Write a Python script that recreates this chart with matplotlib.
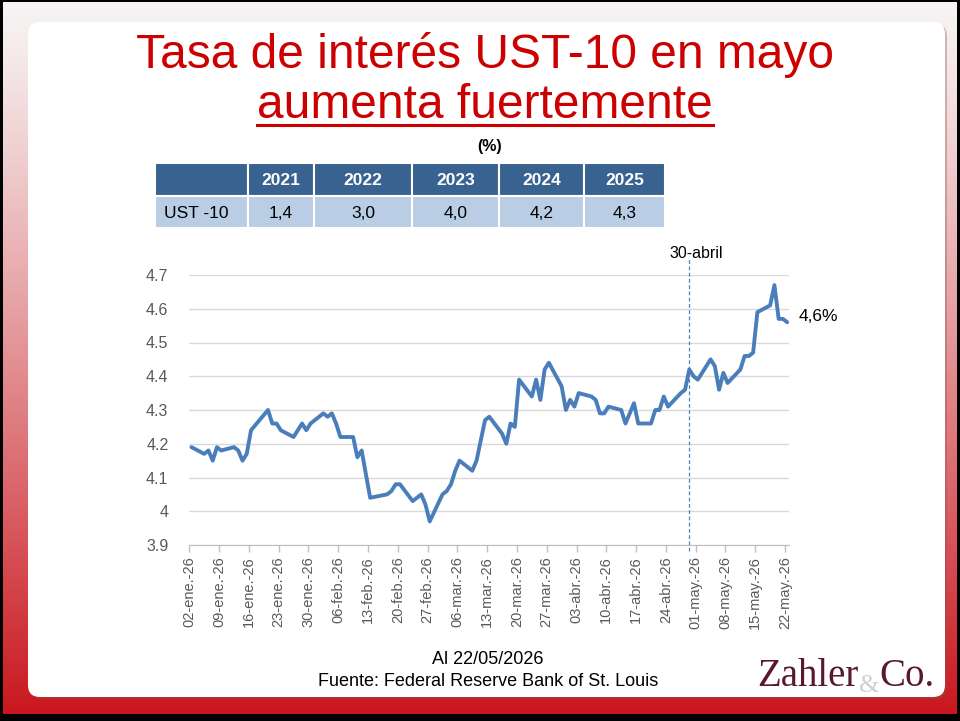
import numpy as np
import pandas as pd
import matplotlib
matplotlib.use("Agg")
import matplotlib.pyplot as plt
from matplotlib.patches import FancyBboxPatch, Rectangle
from matplotlib.lines import Line2D

plt.rcParams["font.family"] = ["Liberation Sans", "DejaVu Sans"]

# ---- 10-year Treasury yield, daily (%), 2026 ----
dates = [
    "2026-01-02", "2026-01-05", "2026-01-06", "2026-01-07", "2026-01-08", "2026-01-09",
    "2026-01-12", "2026-01-13", "2026-01-14", "2026-01-15", "2026-01-16",
    "2026-01-20", "2026-01-21", "2026-01-22", "2026-01-23",
    "2026-01-26", "2026-01-27", "2026-01-28", "2026-01-29", "2026-01-30",
    "2026-02-02", "2026-02-03", "2026-02-04", "2026-02-05", "2026-02-06",
    "2026-02-09", "2026-02-10", "2026-02-11", "2026-02-12", "2026-02-13",
    "2026-02-17", "2026-02-18", "2026-02-19", "2026-02-20",
    "2026-02-23", "2026-02-24", "2026-02-25", "2026-02-26", "2026-02-27",
    "2026-03-02", "2026-03-03", "2026-03-04", "2026-03-05", "2026-03-06",
    "2026-03-09", "2026-03-10", "2026-03-11", "2026-03-12", "2026-03-13",
    "2026-03-16", "2026-03-17", "2026-03-18", "2026-03-19", "2026-03-20",
    "2026-03-23", "2026-03-24", "2026-03-25", "2026-03-26", "2026-03-27",
    "2026-03-30", "2026-03-31", "2026-04-01", "2026-04-02", "2026-04-03",
    "2026-04-06", "2026-04-07", "2026-04-08", "2026-04-09", "2026-04-10",
    "2026-04-13", "2026-04-14", "2026-04-15", "2026-04-16", "2026-04-17",
    "2026-04-20", "2026-04-21", "2026-04-22", "2026-04-23", "2026-04-24",
    "2026-04-27", "2026-04-28", "2026-04-29", "2026-04-30", "2026-05-01",
    "2026-05-04", "2026-05-05", "2026-05-06", "2026-05-07", "2026-05-08",
    "2026-05-11", "2026-05-12", "2026-05-13", "2026-05-14", "2026-05-15",
    "2026-05-18", "2026-05-19", "2026-05-20", "2026-05-21", "2026-05-22",
]
ust10 = [
    4.19, 4.17, 4.18, 4.15, 4.19, 4.18,
    4.19, 4.18, 4.15, 4.17, 4.24,
    4.30, 4.26, 4.26, 4.24,
    4.22, 4.24, 4.26, 4.24, 4.26,
    4.29, 4.28, 4.29, 4.26, 4.22,
    4.22, 4.16, 4.18, 4.11, 4.04,
    4.05, 4.06, 4.08, 4.08,
    4.03, 4.04, 4.05, 4.02, 3.97,
    4.05, 4.06, 4.08, 4.12, 4.15,
    4.12, 4.15, 4.21, 4.27, 4.28,
    4.23, 4.20, 4.26, 4.25, 4.39,
    4.34, 4.39, 4.33, 4.42, 4.44,
    4.37, 4.30, 4.33, 4.31, 4.35,
    4.34, 4.33, 4.29, 4.29, 4.31,
    4.30, 4.26, 4.29, 4.32, 4.26,
    4.26, 4.30, 4.30, 4.34, 4.31,
    4.35, 4.36, 4.42, 4.40, 4.39,
    4.45, 4.43, 4.36, 4.41, 4.38,
    4.42, 4.46, 4.46, 4.47, 4.59,
    4.61, 4.67, 4.57, 4.57, 4.56,
]

# annual reference table
table_years = ["2021", "2022", "2023", "2024", "2025"]
table_values = ["1,4", "3,0", "4,0", "4,2", "4,3"]
table_row_label = "UST -10"

# axis ticks
tick_dates = pd.date_range("2026-01-02", "2026-05-22", freq="7D")
tick_labels = [
    "02-ene.-26", "09-ene.-26", "16-ene.-26", "23-ene.-26", "30-ene.-26",
    "06-feb.-26", "13-feb.-26", "20-feb.-26", "27-feb.-26", "06-mar.-26",
    "13-mar.-26", "20-mar.-26", "27-mar.-26", "03-abr.-26", "10-abr.-26",
    "17-abr.-26", "24-abr.-26", "01-may.-26", "08-may.-26", "15-may.-26",
    "22-may.-26",
]
y_ticks = [3.9, 4.0, 4.1, 4.2, 4.3, 4.4, 4.5, 4.6, 4.7]
y_tick_labels = ["3.9", "4", "4.1", "4.2", "4.3", "4.4", "4.5", "4.6", "4.7"]

marker_date = "2026-04-29"
marker_label = "30-abril"
last_label = "4,6%"

title_line1 = "Tasa de interés UST-10 en mayo"
title_line2 = "aumenta fuertemente"
unit_label = "(%)"
footer_date = "Al 22/05/2026"
footer_source = "Fuente: Federal Reserve Bank of St. Louis"

# ---- canvas ----
W, H = 960, 721
fig = plt.figure(figsize=(W / 100, H / 100), dpi=100)
bg = fig.add_axes([0, 0, 1, 1])
bg.set_xlim(0, W)
bg.set_ylim(H, 0)
bg.axis("off")

# slide background: light at the top fading into red
t = np.linspace(0, 1, H)[:, None]
top = np.array([0.97, 0.96, 0.96])
bot = np.array([0.79, 0.08, 0.11])
grad = top + (bot - top) * (t ** 1.15)[..., None]
grad = np.repeat(grad, 2, axis=1)
bg.imshow(grad, extent=(0, W, H, 0), aspect="auto", zorder=0)

# frame
bg.add_patch(Rectangle((0, 0), W, 2, fc="black", ec="none", zorder=1))
bg.add_patch(Rectangle((0, 0), 3, H, fc="black", ec="none", zorder=1))
bg.add_patch(Rectangle((W - 3, 0), 3, H, fc="black", ec="none", zorder=1))
bg.add_patch(Rectangle((0, 714), W, 7, fc="black", ec="none", zorder=1))

# white content panel with a soft shadow
bg.add_patch(FancyBboxPatch((30, 24), 917, 675,
                            boxstyle="round,pad=0,rounding_size=12",
                            fc="#8a5050", ec="none", alpha=0.35, zorder=2))
bg.add_patch(FancyBboxPatch((28, 22), 917, 675,
                            boxstyle="round,pad=0,rounding_size=12",
                            fc="white", ec="none", zorder=3))

# titles
red = "#cc0000"
bg.text(485, 68, title_line1, ha="center", va="baseline",
        fontsize=34.5, color=red, zorder=5)
t2 = bg.text(485, 118, title_line2, ha="center", va="baseline",
             fontsize=34.5, color=red, zorder=5)
fig.canvas.draw()
bb = t2.get_window_extent().transformed(bg.transData.inverted())
bg.add_line(Line2D([bb.x0, bb.x1], [125, 125], color=red, lw=2.2, zorder=5))

bg.text(490, 147, unit_label, ha="center", va="center",
        fontsize=11.5, fontweight="bold", color="black", zorder=5)

# table
col_edges = [155, 248, 314, 412, 499, 584, 665]
head_y0, head_y1 = 163, 196
row_y0, row_y1 = 196, 228
head_c = "#386290"
row_c = "#b9cde5"
for i in range(len(col_edges) - 1):
    x0, x1 = col_edges[i], col_edges[i + 1]
    bg.add_patch(Rectangle((x0, head_y0), x1 - x0, head_y1 - head_y0,
                           fc=head_c, ec="white", lw=1.5, zorder=4))
    bg.add_patch(Rectangle((x0, row_y0), x1 - x0, row_y1 - row_y0,
                           fc=row_c, ec="white", lw=1.5, zorder=4))
for i, (yr, val) in enumerate(zip(table_years, table_values)):
    xc = (col_edges[i + 1] + col_edges[i + 2]) / 2
    bg.text(xc, (head_y0 + head_y1) / 2 + 1, yr, ha="center", va="center",
            fontsize=12.5, fontweight="bold", color="white", zorder=5)
    bg.text(xc, (row_y0 + row_y1) / 2 + 1, val, ha="center", va="center",
            fontsize=12.5, color="black", zorder=5)
bg.text(164, (row_y0 + row_y1) / 2 + 1, table_row_label, ha="left",
        va="center", fontsize=12.5, color="black", zorder=5)

# footer
narrow = ["Liberation Sans Narrow", "Liberation Sans", "DejaVu Sans"]
bg.text(488, 660, footer_date, ha="center", va="center", fontsize=13,
        family=narrow, zorder=5)
bg.text(488, 681, footer_source, ha="center", va="center", fontsize=13,
        family=narrow, zorder=5)

# logo
serif = ["Liberation Serif", "DejaVu Serif"]
bg.text(869, 692, "&", ha="center", va="baseline", fontsize=19,
        color="#cfcfcf", family=serif, zorder=5)
bg.text(757, 686, "Zahler", ha="left", va="baseline", fontsize=28,
        color="#5a1830", family=serif, zorder=6)
bg.text(935, 686, "Co.", ha="right", va="baseline", fontsize=28,
        color="#5a1830", family=serif, zorder=6)

# ---- line chart ----
ax = fig.add_axes([189.3 / W, (H - 545) / H, 600 / W, 270 / H])
ax.patch.set_alpha(0)
ax.set_zorder(10)

half_day = pd.Timedelta(hours=12)
x = pd.to_datetime(dates) + half_day
ax.plot(x, ust10, color="#4a7ebb", lw=2.8, solid_joinstyle="round",
        solid_capstyle="round", zorder=3)

ax.set_xlim(pd.Timestamp("2026-01-02"), pd.Timestamp("2026-05-23"))
ax.set_ylim(3.9, 4.7)
ax.set_yticks(y_ticks)
ax.set_yticklabels(y_tick_labels)
ax.set_xticks(tick_dates)
ax.set_xticklabels(tick_labels, rotation=90)

ax.yaxis.grid(True, color="#d9d9d9", lw=1.0)
ax.set_axisbelow(True)
for s in ("top", "right", "left"):
    ax.spines[s].set_visible(False)
ax.spines["bottom"].set_color("#bfbfbf")
ax.tick_params(axis="y", length=0, pad=15, labelsize=11.5, labelcolor="#595959")
ax.tick_params(axis="x", length=5, width=1, color="#bfbfbf", pad=3,
               labelsize=10.5, labelcolor="#595959")

# 30-April marker
xm = pd.Timestamp(marker_date) + half_day
ax.plot([xm, xm], [3.882, 4.75], ls=(0, (3, 2)), color="#4f81bd", lw=0.9,
        clip_on=False, zorder=2)
ax.annotate(marker_label, xy=(xm, 4.75), xytext=(5, 3), textcoords="offset points",
            ha="center", va="center", fontsize=11.5, annotation_clip=False)

# last value label
ax.annotate(last_label, xy=(x[-1], ust10[-1]), xytext=(8, 4),
            textcoords="offset points", ha="left", va="center", fontsize=12.5,
            annotation_clip=False)

fig.savefig("out.png", dpi=100)
